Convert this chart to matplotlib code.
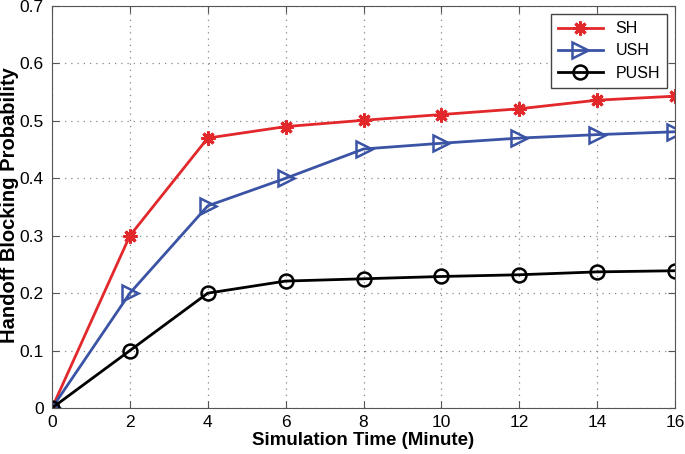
import matplotlib
matplotlib.use("Agg")
import matplotlib.pyplot as plt

plt.rcParams['font.family'] = ['Liberation Sans', 'DejaVu Sans']

time = [0, 2, 4, 6, 8, 10, 12, 14, 16]
sh = [0, 0.30, 0.47, 0.49, 0.501, 0.511, 0.521, 0.536, 0.543]
ush = [0, 0.20, 0.352, 0.40, 0.451, 0.461, 0.47, 0.476, 0.481]
push = [0, 0.10, 0.20, 0.221, 0.225, 0.229, 0.232, 0.237, 0.239]

fig = plt.figure(figsize=(6.85, 4.54), dpi=100)
ax = fig.add_axes([52/685, 46/454, 623/685, 402/454])

ax.plot(time, sh, color='#e2282b', lw=2, marker=(8, 2, 0), ms=10, mec='#e2282b', mew=2.2, label='SH')
ax.plot(time, ush, color='#3a53a4', lw=2, marker='>', ms=11, mec='#3a53a4', mfc='none', mew=1.8, label='USH')
ax.plot(time, push, color='black', lw=2, marker='o', ms=10, mec='black', mfc='none', mew=1.8, label='PUSH')

ax.set_xlim(0, 16)
ax.set_ylim(0, 0.7)
ax.set_xticks(time)
ax.set_yticks([0, 0.1, 0.2, 0.3, 0.4, 0.5, 0.6, 0.7])
ax.set_yticklabels(['0', '0.1', '0.2', '0.3', '0.4', '0.5', '0.6', '0.7'])
ax.tick_params(direction='in', top=True, right=True, labelsize=12.5, length=5, color='#555555')
ax.tick_params(axis='y', pad=6)
ax.tick_params(axis='x', pad=5)
ax.grid(True, linestyle=(0, (1, 4)), color='#888888', lw=0.9)
for s in ax.spines.values():
    s.set_color('#555555')
ax.set_xlabel('Simulation Time (Minute)', fontsize=13.5, fontweight='bold')
ax.set_ylabel('Handoff Blocking Probability', fontsize=14.5, fontweight='bold')
ax.xaxis.set_label_coords(0.5, (408 - 432) / 402)
ax.yaxis.set_label_coords((19 - 52) / 623, 0.504)

leg = ax.legend(loc='upper right', fontsize=11.5, fancybox=False, edgecolor='#444444',
                framealpha=1, borderpad=0.45, handlelength=2.8, labelspacing=0.45,
                borderaxespad=0, bbox_to_anchor=((667 - 52) / 623, (408 - 14) / 402))
leg.get_frame().set_linewidth(1)

fig.savefig('out.png', dpi=100)
